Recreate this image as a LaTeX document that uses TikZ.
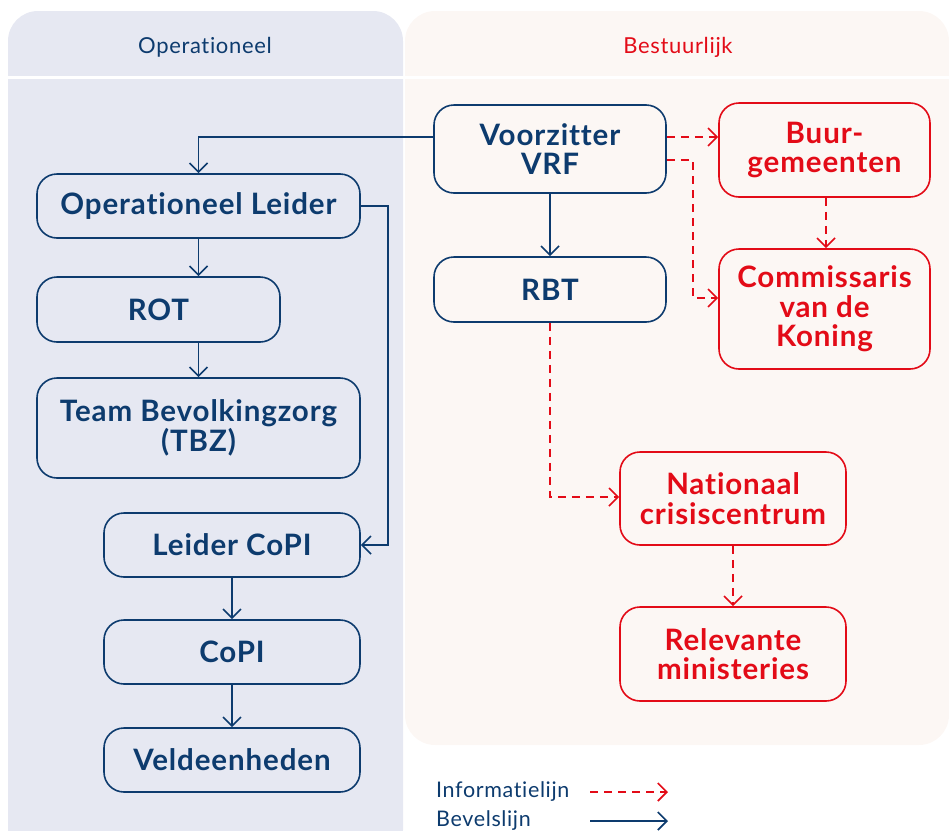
\documentclass[tikz,border=0pt]{standalone}
\usepackage{fontspec}
\setmainfont{Lato}[Ligatures=NoCommon, LetterSpace=3]
\usetikzlibrary{arrows.meta}
\definecolor{navy}{HTML}{0D3B6E}
\definecolor{redc}{HTML}{E30B17}
\definecolor{leftbg}{HTML}{E6E8F2}
\definecolor{rightbg}{HTML}{FCF7F4}
\tikzset{
  box/.style={draw, rounded corners=20pt, line width=1.6pt, align=center, inner sep=0pt,
    font=\fontsize{29.5}{29.5}\selectfont\bfseries},
  navybox/.style={box, draw=navy, text=navy},
  redbox/.style={box, draw=redc, text=redc},
  tipv/.style={-{Straight Barb[length=9pt,width=18pt,line width=1.7pt]}},
  cmd/.style={draw=navy, line width=1.7pt, tipv},
  info/.style={draw=redc, line width=1.7pt, dash pattern=on 8pt off 6pt, tipv},
  header/.style={font=\fontsize{22}{26}\selectfont},
  legend/.style={font=\fontsize{21.5}{24}\selectfont, text=navy, anchor=base west, inner sep=0pt}
}
\begin{document}
\begin{tikzpicture}[x=1pt,y=-1pt]
\useasboundingbox (0,0) rectangle (949,830);
% panels
\fill[rightbg, rounded corners=30pt] (405,11) rectangle (949,745);
\fill[leftbg, rounded corners=30pt] (8,11) rectangle (403,860);
\fill[white] (8,75.5) rectangle (949,78.5);
\node[header, text=navy] (hop) at (205,47) {Operationeel};
\node[header, text=redc] (hbe) at (678,47) {Bestuurlijk};
% left nodes
\node[navybox, minimum width=323pt, minimum height=64pt] (ol) at (198.5,206) {Operationeel Leider};
\node[navybox, minimum width=243pt, minimum height=65pt] (rot) at (158.5,309.5) {ROT};
\node[navybox, minimum width=323pt, minimum height=100pt] (tbz) at (198.5,428) {Team Bevolkingzorg\\(TBZ)};
\node[navybox, minimum width=256pt, minimum height=64pt] (lcopi) at (232,545) {Leider CoPI};
\node[navybox, minimum width=256pt, minimum height=64pt] (copi) at (232,652) {CoPI};
\node[navybox, minimum width=256pt, minimum height=64pt] (veld) at (232,760) {Veldeenheden};
% right nodes
\node[navybox, minimum width=232pt, minimum height=88pt] (vrf) at (550,149) {Voorzitter\\VRF};
\node[navybox, minimum width=232pt, minimum height=65pt] (rbt) at (550,289.5) {RBT};
\node[redbox, minimum width=211pt, minimum height=94pt] (buur) at (824.5,150) {Buur-\\gemeenten};
\node[redbox, minimum width=211pt, minimum height=120pt] (cdk) at (824.5,309) {Commissaris\\van de\\Koning};
\node[redbox, minimum width=226pt, minimum height=93pt] (ncc) at (733,498.5) {Nationaal\\crisiscentrum};
\node[redbox, minimum width=226pt, minimum height=94pt] (rm) at (733,654) {Relevante\\ministeries};
% command lines
\draw[cmd] ([yshift=12pt]vrf.west) -| (ol.north);
\draw[cmd] (ol.south) -- (ol.south |- rot.north);
\draw[cmd] (ol.south |- rot.south) -- (ol.south |- tbz.north);
\draw[cmd] (ol.east) -- ++(27,0) |- (lcopi.east);
\draw[cmd] (lcopi.south) -- (copi.north);
\draw[cmd] (copi.south) -- (veld.north);
\draw[cmd] (vrf.south) -- (rbt.north);
% information lines
\coordinate (vrfa) at ([yshift=12pt]vrf.east);
\coordinate (vrfb) at ([yshift=-11pt]vrf.east);
\coordinate (cdkin) at ([yshift=11pt]cdk.west);
\draw[info] (vrfa) -- (vrfa -| buur.west);
\draw[info] (vrfb) -- ++(26,0) |- (cdkin);
\draw[info] ([xshift=1.5pt]buur.south) -- ([xshift=1.5pt]cdk.north);
\draw[info] (rbt.south) |- ([yshift=1.5pt]ncc.west);
\draw[info] (ncc.south) -- (rm.north);
% legend
\node[legend] (li) at (436,797) {Informatielijn};
\node[legend] (lb) at (436,826) {Bevelslijn};
\coordinate (lia) at (590,792);
\coordinate (lib) at (668,792);
\coordinate (lba) at (590,821);
\coordinate (lbb) at (668,821);
\draw[info] (lia) -- (lib);
\draw[cmd] (lba) -- (lbb);
\end{tikzpicture}
\end{document}
